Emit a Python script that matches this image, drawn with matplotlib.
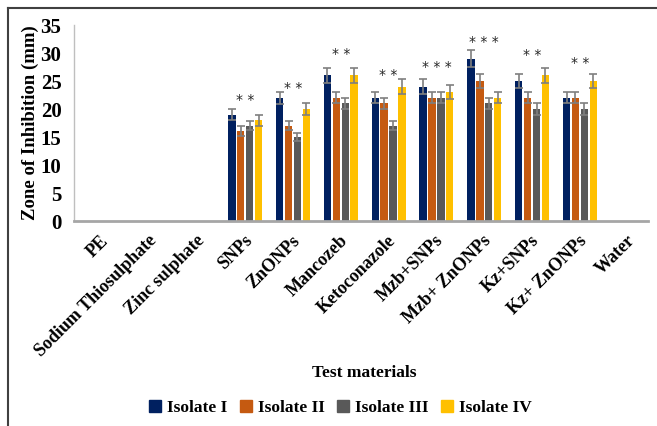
import matplotlib
matplotlib.use("Agg")
import matplotlib.pyplot as plt
from matplotlib.lines import Line2D
import numpy as np

categories = ["PE", "Sodium Thiosulphate", "Zinc sulphate", "SNPs", "ZnONPs",
              "Mancozeb", "Ketoconazole", "Mzb+SNPs", "Mzb+ ZnONPs", "Kz+SNPs",
              "Kz+ ZnONPs", "Water"]
series_names = ["Isolate I", "Isolate II", "Isolate III", "Isolate IV"]
isolate_1 = [0, 0, 0, 19, 22, 26, 22, 24, 29, 25, 22, 0]
isolate_2 = [0, 0, 0, 16, 17, 22, 21, 22, 25, 22, 22, 0]
isolate_3 = [0, 0, 0, 17, 15, 21, 17, 22, 21, 20, 20, 0]
isolate_4 = [0, 0, 0, 18, 20, 26, 24, 23, 22, 26, 25, 0]
err_1 = [0, 0, 0, 1.0, 1.1, 1.3, 1.0, 1.3, 1.5, 1.2, 1.0, 0]
err_2 = [0, 0, 0, 0.9, 0.8, 1.0, 1.0, 1.0, 1.2, 1.0, 1.0, 0]
err_3 = [0, 0, 0, 0.8, 0.7, 1.0, 0.8, 1.0, 1.0, 1.0, 1.0, 0]
err_4 = [0, 0, 0, 1.0, 1.0, 1.3, 1.3, 1.3, 1.0, 1.4, 1.2, 0]
sig_labels = ["", "", "", "**", "**", "**", "**", "***", "***", "**", "**", ""]
sig_heights = [0, 0, 0, 21.6, 23.8, 29.8, 26.0, 27.5, 32.0, 29.6, 28.2, 0]

colors = ["#002060", "#C55A11", "#595959", "#FFC000"]
serif = ["Liberation Serif", "DejaVu Serif"]

fig = plt.figure(figsize=(6.57, 4.26), dpi=100)
ax = fig.add_axes([0.1126, 0.4812, 0.8734, 0.4601])

x = np.arange(len(categories))
values = [isolate_1, isolate_2, isolate_3, isolate_4]
errors = [err_1, err_2, err_3, err_4]
step = 0.186
width = 0.155
for k, (vals, errs) in enumerate(zip(values, errors)):
    pos = x + (k - 1.5) * step + 0.03
    v = np.array(vals, dtype=float)
    e = np.array(errs, dtype=float)
    ax.bar(pos, v, width=width, color=colors[k], label=series_names[k], zorder=2)
    mask = v > 0
    ax.errorbar(pos[mask], v[mask], yerr=e[mask], fmt="none", ecolor="#7f7f7f",
                elinewidth=1.2, capsize=3, capthick=1.2, zorder=3)

for i, (lab, h) in enumerate(zip(sig_labels, sig_heights)):
    if lab:
        ax.text(x[i] + 0.03, h, " ".join(lab), ha="center", va="center",
                fontsize=10, color="#262626", family=["DejaVu Sans"])

ax.set_xlim(-0.55, 11.45)
ax.set_ylim(0, 35)
ax.set_yticks(np.arange(0, 36, 5))
ax.set_yticklabels([str(t) for t in range(0, 36, 5)], fontsize=15,
                   fontweight="bold", family=serif)
ax.set_xticks(x)
ax.set_xticklabels(categories, rotation=45, ha="right", rotation_mode="anchor",
                   fontsize=13, fontweight="bold", family=serif)
ax.tick_params(axis="both", length=0)
ax.tick_params(axis="x", pad=8)
ax.tick_params(axis="y", pad=9)
for s in ["top", "right"]:
    ax.spines[s].set_visible(False)
ax.spines["left"].set_color("#bfbfbf")
ax.spines["left"].set_linewidth(1.0)
ax.spines["bottom"].set_color("#a6a6a6")
ax.spines["bottom"].set_linewidth(2.0)

ax.set_ylabel("Zone of Inhibition (mm)", fontsize=13.5, fontweight="bold",
              family=serif, labelpad=1)
fig.text(0.555, 0.124, "Test materials", ha="center", va="center",
         fontsize=12.5, fontweight="bold", family=serif)

handles = [plt.Rectangle((0, 0), 1, 1, color=c) for c in colors]
leg = fig.legend(handles, series_names, loc="center", bbox_to_anchor=(0.518, 0.042),
                 ncol=4, frameon=False, handlelength=0.7, handleheight=0.7,
                 handletextpad=0.35, columnspacing=0.7,
                 prop={"family": serif, "weight": "bold", "size": 12.5})

# outer frame (partially cropped)
fig.add_artist(Line2D([8/657, 8/657], [0, 1 - 8/426], transform=fig.transFigure,
                      color="#404040", lw=1.5))
fig.add_artist(Line2D([8/657, 1], [1 - 8/426, 1 - 8/426], transform=fig.transFigure,
                      color="#404040", lw=1.5))

fig.savefig("out.png", dpi=100)
